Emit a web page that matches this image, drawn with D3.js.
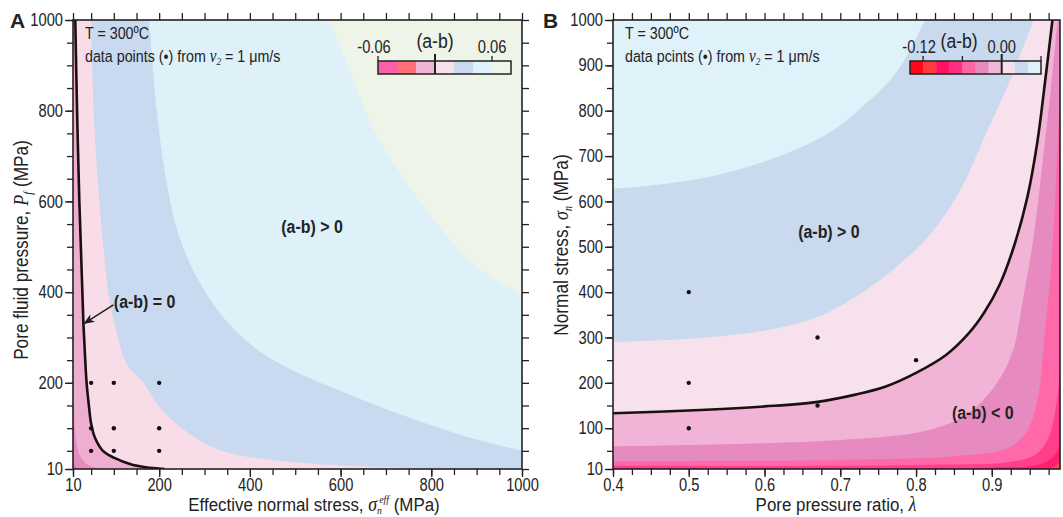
<!DOCTYPE html>
<html>
<head>
<meta charset="utf-8">
<script src="https://cdn.jsdelivr.net/npm/d3@7"></script>
<style>
    body { margin: 0; background: #fff; }
    svg text { fill: #222; }
</style>
</head>
<body>
<svg id="chart" width="1063" height="517"></svg>
<script>
// ---- panel A : (a-b) vs effective normal stress and pore fluid pressure ----
var majorTicksA = [10, 200, 400, 600, 800, 1000]
var minorTicksA = [10, 50, 100, 150, 200, 250, 300, 350, 400, 450, 500, 550, 600, 650, 700, 750, 800, 850, 900, 950, 1000]
var pointsA = [[50, 200], [100, 200], [200, 200], [50, 100], [100, 100], [200, 100], [50, 50], [100, 50], [200, 50]]
// contour boundaries (sigma_eff, Pf)
var boundA1 = [[575, 1000], [617, 898], [676, 752], [772, 605], [897, 458], [1000, 394]]
var boundA2 = [[178, 1000], [195, 800], [215, 650], [245, 520], [290, 420], [345, 340], [420, 270], [500, 225], [580, 190], [680, 150], [790, 110], [900, 75], [1000, 50]]
var boundA3 = [[50, 1000], [58, 752], [74, 531], [90, 385], [106, 311], [130, 238], [165, 200], [198, 150], [250, 100], [337, 50], [450, 30], [600, 18], [750, 12], [820, 10]]
var zeroCurveA = [[15, 1000], [19, 800], [24, 600], [29, 450], [33, 330], [37, 250], [40, 200], [45, 150], [50, 110], [58, 80], [76, 50], [100, 35], [139, 20], [170, 14], [212, 10]]
var boundA5 = [[10, 260], [12, 150], [15, 90], [20, 55], [28, 35], [42, 20], [60, 13], [80, 10]]
var boundA6 = [[10, 60], [12, 30], [16, 15], [22, 10]]
var fillsA = ["#eef4e8", "#def1f9", "#c9d9ef", "#f8dde9", "#eeaed1", "#e68bc0", "#e172ad"]
var legendLevelsA = [-0.06, -0.04, -0.02, 0, 0.02, 0.04, 0.06, 0.08]
var legendColorsA = ["#ff5fa8", "#ff7078", "#f0b5d6", "#f7dfea", "#c9d9ef", "#dff2fa", "#eef4e8"]
var legendTicksA = [-0.06, 0.06]

// ---- panel B : (a-b) vs pore pressure ratio and normal stress ----
var majorXTicksB = [0.4, 0.5, 0.6, 0.7, 0.8, 0.9]
var minorXTicksB = [0.4, 0.425, 0.45, 0.475, 0.5, 0.525, 0.55, 0.575, 0.6, 0.625, 0.65, 0.675, 0.7, 0.725, 0.75, 0.775, 0.8, 0.825, 0.85, 0.875, 0.9, 0.925, 0.95, 0.975]
var majorYTicksB = [10, 100, 200, 300, 400, 500, 600, 700, 800, 900, 1000]
var minorYTicksB = [10, 50, 100, 150, 200, 250, 300, 350, 400, 450, 500, 550, 600, 650, 700, 750, 800, 850, 900, 950, 1000]
var pointsB = [[0.5, 400], [0.5, 200], [0.5, 100], [0.67, 300], [0.67, 150], [0.8, 250]]
var boundB1 = [[0.4, 628], [0.444, 634], [0.532, 656], [0.62, 700], [0.686, 752], [0.73, 810], [0.774, 884], [0.812, 1000]]
var boundB2 = [[0.4, 290], [0.5, 297], [0.6, 315], [0.67, 345], [0.72, 390], [0.77, 450], [0.82, 530], [0.86, 630], [0.895, 760], [0.925, 870], [0.955, 1000]]
var zeroCurveB = [[0.4, 133], [0.5, 139], [0.6, 148], [0.67, 158], [0.72, 174], [0.76, 192], [0.8, 222], [0.84, 262], [0.87, 310], [0.89, 355], [0.91, 415], [0.93, 505], [0.947, 610], [0.96, 730], [0.97, 860], [0.98, 1000]]
var boundB3 = [[0.4, 60], [0.5, 63], [0.6, 67], [0.7, 74], [0.8, 90], [0.85, 115], [0.875, 140], [0.907, 200], [0.928, 272], [0.941, 383], [0.955, 520], [0.968, 700], [0.978, 850], [0.987, 1000]]
var boundB4 = [[0.4, 27], [0.7, 30], [0.85, 38], [0.92, 55], [0.945, 90], [0.96, 160], [0.97, 310], [0.978, 450], [0.985, 650], [0.99, 850]]
var boundB5 = [[0.4, 17], [0.8, 19], [0.93, 27], [0.96, 45], [0.975, 80], [0.985, 150], [0.99, 220]]
var boundB6 = [[0.4, 11], [0.9, 13], [0.96, 19], [0.98, 35], [0.99, 60]]
var boundB7 = [[0.975, 10], [0.985, 18], [0.99, 28]]
var fillsB = ["#dff2fa", "#c9d9ee", "#f7e1ec", "#f1b4d6", "#e78abf", "#ff69aa", "#ff3f8c", "#ff1f6e", "#ff4a4a"]
var legendLevelsB = [-0.14, -0.12, -0.10, -0.08, -0.06, -0.04, -0.02, 0, 0.02, 0.04, 0.06]
var legendColorsB = ["#fe0a16", "#ff3b40", "#ff1262", "#ff2e7e", "#ff66a6", "#e58abc", "#f0b8d6", "#f7dfea", "#c9d9ef", "#dff2fa"]
var legendTicksB = [-0.12, -0.06, 0.06]

var FONT = "'Liberation Sans',Arial,sans-serif"
var SERIF = "'Liberation Serif','DejaVu Serif',serif"
var SQ = 0.84   // the figure uses a condensed face, squeeze a regular one
var svg = d3.select("#chart")
var defs = svg.append("defs")

defs.append("marker")
    .attr("id", "arrow")
    .attr("viewBox", "0 0 10 10")
    .attr("refX", 9).attr("refY", 5)
    .attr("markerWidth", 7).attr("markerHeight", 7)
    .attr("orient", "auto")
    .append("path")
    .attr("d", "M0,1 L10,5 L0,9 L3,5 Z")
    .attr("fill", "#222")

// text placed with a transform so it can be narrowed
function ntext(parent, x, y, rotate, sq) {
    return parent.append("text")
        .attr("transform", "translate(" + x + "," + y + ")" + (rotate ? " rotate(" + rotate + ")" : "") + " scale(" + (sq || SQ) + ",1)")
        .attr("font-family", FONT)
}

function addAxis(axis, values, size, fmt, transform) {
    var g = svg.append("g")
        .attr("transform", transform)
        .call(axis.tickValues(values).tickSize(size).tickPadding(2).tickFormat(fmt))
    g.select(".domain").remove()
    g.selectAll("line").attr("stroke", "#222").attr("stroke-width", 1.3)
    g.selectAll("text")
        .attr("font-family", FONT).attr("font-size", 17.5).attr("fill", "#222")
        .attr("x", function () { return +d3.select(this).attr("x") / SQ })
        .attr("transform", "scale(" + SQ + ",1)")
    return g
}

function drawPanel(p) {
    var x = d3.scaleLinear().domain(p.xDomain).range([p.left, p.right])
    var y = d3.scaleLinear().domain(p.yDomain).range([p.bottom, p.top])
    var x0 = p.xDomain[0], x1 = p.xDomain[1], y0 = p.yDomain[0], y1 = p.yDomain[1]

    defs.append("clipPath").attr("id", "clip" + p.name)
        .append("rect")
        .attr("x", p.left).attr("y", p.top)
        .attr("width", p.right - p.left).attr("height", p.bottom - p.top)

    var regions = svg.append("g").attr("clip-path", "url(#clip" + p.name + ")")
    regions.append("rect")
        .attr("x", p.left).attr("y", p.top)
        .attr("width", p.right - p.left).attr("height", p.bottom - p.top)
        .attr("fill", p.fills[0])

    var curve = d3.line()
        .x(function (d) { return x(d[0]) })
        .y(function (d) { return y(d[1]) })
        .curve(d3.curveCatmullRom.alpha(0.5))

    p.bounds.forEach(function (b, i) {
        var first = b[0], last = b[b.length - 1]
        var extra = []
        if (p.side == "lowerLeft") {
            if (last[0] >= x1) extra.push([x1, y0])
            extra.push([x0, y0])
            if (first[1] >= y1) extra.push([x0, y1])
        } else {
            if (last[1] >= y1) extra.push([x1, y1])
            extra.push([x1, y0])
            extra.push([x0, y0])
        }
        var d = curve(b) + extra.map(function (c) { return "L" + x(c[0]) + "," + y(c[1]) }).join("") + "Z"
        regions.append("path").attr("d", d).attr("fill", p.fills[i + 1])
    })

    // (a-b) = 0 line
    regions.append("path")
        .attr("d", curve(p.zeroCurve))
        .attr("fill", "none")
        .attr("stroke", "#1b1010")
        .attr("stroke-width", 2.6)

    regions.selectAll(".dot")
        .data(p.points)
        .enter().append("circle")
        .attr("cx", function (d) { return x(d[0]) })
        .attr("cy", function (d) { return y(d[1]) })
        .attr("r", 2.2)
        .attr("fill", "#151010")

    // ticks on all sides
    addAxis(d3.axisBottom(x), p.xMinor, 6, "", "translate(0," + p.bottom + ")")
    addAxis(d3.axisBottom(x), p.xMajor, 8, p.xFormat, "translate(0," + p.bottom + ")")
    addAxis(d3.axisTop(x), p.xMinor, 7, "", "translate(0," + p.top + ")")
    addAxis(d3.axisLeft(y), p.yMinor, 6, "", "translate(" + p.left + ",0)")
    addAxis(d3.axisLeft(y), p.yMajor, 8, p.yFormat, "translate(" + p.left + ",0)")
    if (p.rightTicks) {
        addAxis(d3.axisRight(y), p.yMinor, 7, "", "translate(" + p.right + ",0)")
    }

    svg.append("rect")
        .attr("x", p.left).attr("y", p.top)
        .attr("width", p.right - p.left).attr("height", p.bottom - p.top)
        .attr("fill", "none")
        .attr("stroke", "#222")
        .attr("stroke-width", 1.6)

    // colour bar legend
    var lx = d3.scaleLinear().domain([p.legendLevels[0], p.legendLevels[p.legendLevels.length - 1]]).range(p.legendRange)
    var lg = svg.append("g")
    lg.selectAll("rect")
        .data(p.legendColors)
        .enter().append("rect")
        .attr("x", function (d, i) { return lx(p.legendLevels[i]) })
        .attr("width", function (d, i) { return lx(p.legendLevels[i + 1]) - lx(p.legendLevels[i]) + 0.3 })
        .attr("y", p.legendTop).attr("height", 13)
        .attr("fill", function (d) { return d })
    lg.append("rect")
        .attr("x", p.legendRange[0]).attr("y", p.legendTop)
        .attr("width", p.legendRange[1] - p.legendRange[0]).attr("height", 13)
        .attr("fill", "none").attr("stroke", "#222").attr("stroke-width", 1.5)
    lg.selectAll(".ltick")
        .data(p.legendTicks)
        .enter().append("line")
        .attr("x1", function (d) { return lx(d) }).attr("x2", function (d) { return lx(d) })
        .attr("y1", p.legendTop - 5).attr("y2", p.legendTop)
        .attr("stroke", "#222").attr("stroke-width", 1.3)
    lg.append("line")
        .attr("x1", lx(0)).attr("x2", lx(0))
        .attr("y1", p.legendTop - 7).attr("y2", p.legendTop + 13)
        .attr("stroke", "#222").attr("stroke-width", 2)
    p.legendLabels.forEach(function (d) {
        ntext(lg, lx(d) - (d < 0 ? 4 : 0), p.legendTop - 8)
            .attr("text-anchor", "middle").attr("font-size", 17.5)
            .text(d == 0 ? "0.00" : d3.format(".2f")(d).replace("−", "-"))
    })
    ntext(lg, lx(p.legendTitleAt), p.legendTop - 13)
        .attr("text-anchor", "middle").attr("font-size", 21)
        .text("(a-b)")

    // header text
    ntext(svg, p.left + 12, p.top + 19).attr("font-size", 17).text("T = 300ºC")
    var t = ntext(svg, p.left + 12, p.top + 42).attr("font-size", 17)
    t.append("tspan").text(p.pointsText + " (•) from ")
    t.append("tspan").attr("font-family", SERIF).attr("font-style", "italic").attr("font-size", 18).text("ν")
    t.append("tspan").attr("font-family", SERIF).attr("font-size", 11).attr("dy", 3).attr("font-style", "italic").text("2")
    t.append("tspan").attr("dy", -3).text(" = 1 μm/s")

    svg.append("text")
        .attr("x", p.labelX).attr("y", p.top + 8)
        .attr("font-family", FONT)
        .attr("font-weight", "bold").attr("font-size", 21)
        .text(p.name)

    // region labels
    p.notes.forEach(function (n) {
        ntext(svg, x(n.at[0]), y(n.at[1]))
            .attr("text-anchor", n.anchor)
            .attr("dy", "0.35em")
            .attr("font-weight", "bold").attr("font-size", 19)
            .text(n.text)
    })

    return { x: x, y: y }
}

var scA = drawPanel({
    name: "A", labelX: 10, left: 73, right: 522, top: 20, bottom: 469,
    xDomain: [10, 1000], yDomain: [10, 1000],
    xMajor: majorTicksA, xMinor: minorTicksA, yMajor: majorTicksA, yMinor: minorTicksA,
    xFormat: d3.format("d"), yFormat: d3.format("d"), rightTicks: true,
    side: "lowerLeft", fills: fillsA,
    bounds: [boundA1, boundA2, boundA3, zeroCurveA, boundA5, boundA6],
    zeroCurve: zeroCurveA, points: pointsA,
    legendLevels: legendLevelsA, legendColors: legendColorsA, legendTicks: legendTicksA,
    legendLabels: [-0.06, 0.06], legendTitleAt: 0, legendRange: [378, 511], legendTop: 61,
    pointsText: "data points",
    notes: [{ text: "(a-b) > 0", at: [537, 544], anchor: "middle" },
            { text: "(a-b) = 0", at: [100, 380], anchor: "start" }]
})

drawPanel({
    name: "B", labelX: 543, left: 613, right: 1060, top: 20, bottom: 469,
    xDomain: [0.4, 0.99], yDomain: [10, 1000],
    xMajor: majorXTicksB, xMinor: minorXTicksB, yMajor: majorYTicksB, yMinor: minorYTicksB,
    xFormat: d3.format(".1f"), yFormat: d3.format("d"), rightTicks: false,
    side: "lowerRight", fills: fillsB,
    bounds: [boundB1, boundB2, zeroCurveB, boundB3, boundB4, boundB5, boundB6, boundB7],
    zeroCurve: zeroCurveB, points: pointsB,
    legendLevels: legendLevelsB, legendColors: legendColorsB, legendTicks: legendTicksB,
    legendLabels: [-0.12, 0], legendTitleAt: -0.065, legendRange: [910, 1041], legendTop: 61,
    pointsText: "data pcints",
    notes: [{ text: "(a-b) > 0", at: [0.685, 533], anchor: "middle" },
            { text: "(a-b) < 0", at: [0.888, 136], anchor: "middle" }]
})

// arrow to the (a-b) = 0 line in panel A
svg.append("line")
    .attr("x1", scA.x(99)).attr("y1", scA.y(372))
    .attr("x2", scA.x(35)).attr("y2", scA.y(331))
    .attr("stroke", "#222").attr("stroke-width", 1.6)
    .attr("marker-end", "url(#arrow)")

// axis titles
var ya = ntext(svg, 28, 250, -90).attr("text-anchor", "middle").attr("font-size", 20.5)
ya.append("tspan").text("Pore fluid pressure, ")
ya.append("tspan").attr("font-family", SERIF).attr("font-style", "italic").attr("font-size", 21.5).text("P")
ya.append("tspan").attr("font-family", SERIF).attr("font-style", "italic").attr("font-size", 13).attr("dy", 4).text("f")
ya.append("tspan").attr("dy", -4).text(" (MPa)")

var xa = ntext(svg, 314, 511, 0, 0.89).attr("text-anchor", "middle").attr("font-size", 19)
xa.append("tspan").text("Effective normal stress, ")
xa.append("tspan").attr("font-family", SERIF).attr("font-style", "italic").attr("font-size", 20).text("σ")
xa.append("tspan").attr("font-family", SERIF).attr("font-style", "italic").attr("font-size", 11).attr("dy", 2.5).text("n")
xa.append("tspan").attr("font-family", SERIF).attr("font-style", "italic").attr("font-size", 11).attr("dy", -10.5).attr("dx", -3).text("eff")
xa.append("tspan").attr("dy", 8).text(" (MPa)")

var yb = ntext(svg, 568, 245, -90).attr("text-anchor", "middle").attr("font-size", 20.5)
yb.append("tspan").text("Normal stress, ")
yb.append("tspan").attr("font-family", SERIF).attr("font-style", "italic").attr("font-size", 21.5).text("σ")
yb.append("tspan").attr("font-family", SERIF).attr("font-style", "italic").attr("font-size", 12).attr("dy", 4).text("n")
yb.append("tspan").attr("dy", -4).text(" (MPa)")

var xb = ntext(svg, 836, 511, 0, 0.89).attr("text-anchor", "middle").attr("font-size", 19)
xb.append("tspan").text("Pore pressure ratio, ")
xb.append("tspan").attr("font-family", SERIF).attr("font-style", "italic").attr("font-size", 20).text("λ")
</script>
</body>
</html>
